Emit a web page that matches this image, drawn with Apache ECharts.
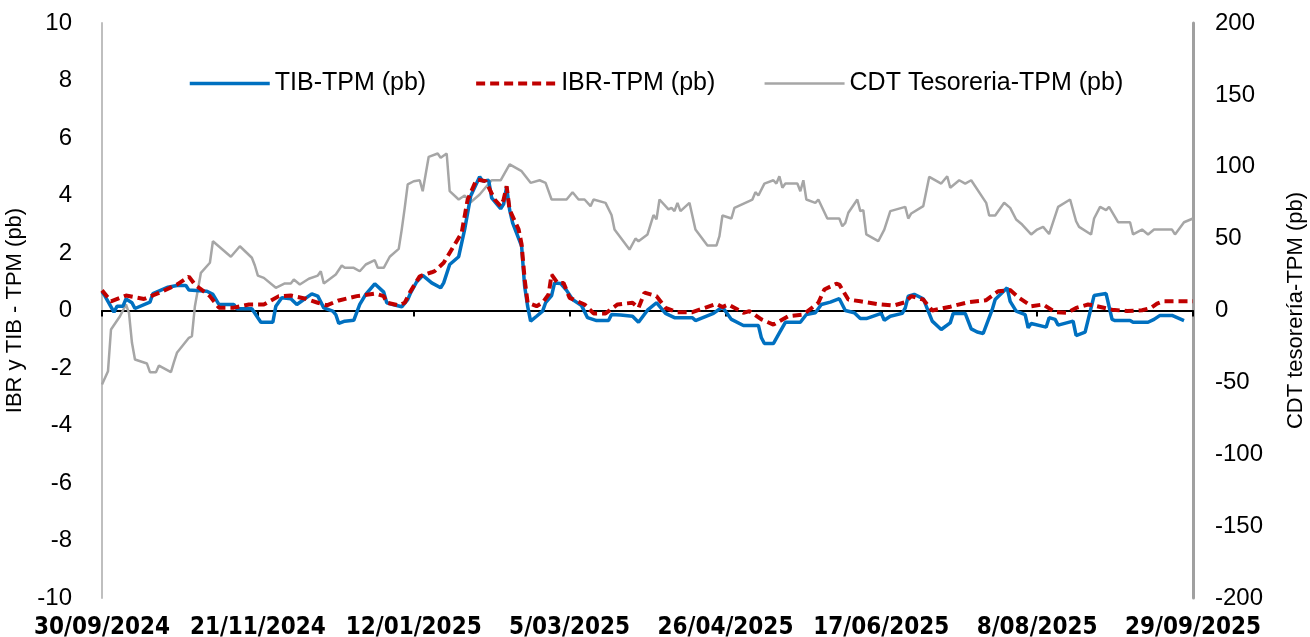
<!DOCTYPE html>
<html>
<head>
<meta charset="utf-8">
<script src="https://cdn.jsdelivr.net/npm/echarts@6/dist/echarts.min.js"></script>
<style>
  html, body { margin: 0; padding: 0; background: #fff; }
  #chart { width: 1310px; height: 637px; }
</style>
</head>
<body>
<div id="chart"></div>
<script>
// etiquetas del eje x (cada 52 días desde 30/09/2024)
const xTickLabels = ['30/09/2024', '21/11/2024', '12/01/2025', '5/03/2025',
  '26/04/2025', '17/06/2025', '8/08/2025', '29/09/2025'];
const tickStep = 52;

// TIB-TPM (pb), eje izquierdo: días desde 30/09/2024 y valor
const tibDays = [0, 1, 4, 5, 7, 8, 10, 11, 16, 17, 22, 25, 28, 29, 35, 37, 39, 44, 45, 50,
  53, 57, 58, 60, 63, 65, 70, 72, 74, 77, 78, 79, 81, 84, 86, 88, 91, 94, 95, 97,
  100, 102, 103, 105, 107, 110, 113, 114, 116, 119, 121, 123, 126, 127, 129, 130, 133, 134, 135, 136,
  137, 140, 141, 142, 143, 145, 147, 148, 150, 151, 153, 155, 157, 160, 162, 165, 169, 170, 173, 177,
  179, 182, 185, 188, 191, 197, 198, 204, 207, 210, 214, 219, 220, 221, 224, 226, 228, 233, 235, 238,
  240, 243, 246, 248, 251, 253, 255, 260, 261, 263, 267, 268, 269, 271, 274, 277, 280, 283, 284, 288,
  290, 292, 294, 297, 298, 302, 303, 305, 308, 309, 310, 315, 316, 318, 319, 324, 325, 328, 331, 335,
  337, 338, 343, 344, 349, 351, 353, 357, 361];
const tibValues = [0.65, 0.5, -0.06, 0.15, 0.15, 0.4, 0.27, 0.07, 0.29, 0.59, 0.81, 0.87, 0.87, 0.71, 0.67, 0.56, 0.21, 0.21, 0.06, 0.06,
  -0.41, -0.41, 0.15, 0.44, 0.41, 0.21, 0.58, 0.5, 0.09, -0.02, -0.14, -0.45, -0.37, -0.34, 0.21, 0.56, 0.93, 0.64, 0.27, 0.21,
  0.13, 0.38, 0.62, 1.0, 1.22, 0.96, 0.79, 0.96, 1.6, 1.87, 2.82, 3.98, 4.65, 4.5, 4.53, 3.92, 3.54, 3.7, 4.3, 3.5,
  3.05, 2.24, 0.85, 0.15, -0.37, -0.2, -0.02, 0.27, 0.52, 0.96, 0.94, 0.7, 0.38, 0.17, -0.25, -0.35, -0.35, -0.14, -0.16, -0.2,
  -0.41, 0.01, 0.27, -0.1, -0.25, -0.25, -0.35, -0.1, 0.12, -0.31, -0.52, -0.52, -0.95, -1.15, -1.15, -0.78, -0.41, -0.41, -0.14, -0.08,
  0.21, 0.29, 0.41, 0, -0.08, -0.28, -0.28, -0.1, -0.34, -0.2, -0.1, 0.09, 0.5, 0.56, 0.41, -0.37, -0.66, -0.43, -0.1, -0.1,
  -0.64, -0.75, -0.8, 0.03, 0.38, 0.79, 0.32, -0.02, -0.14, -0.6, -0.45, -0.58, -0.25, -0.31, -0.51, -0.37, -0.87, -0.75, 0.52, 0.59,
  -0.31, -0.35, -0.35, -0.41, -0.41, -0.31, -0.17, -0.17, -0.35];

// IBR-TPM (pb), eje izquierdo
const ibrDays = [0, 3, 8, 14, 19, 25, 29, 31, 36, 39, 44, 49, 54, 59, 63, 68, 72, 75, 79, 85,
  91, 94, 95, 99, 101, 103, 106, 110, 111, 114, 117, 120, 122, 125, 128, 131, 133, 134, 135, 136,
  139, 140, 141, 142, 145, 147, 149, 150, 152, 154, 156, 161, 164, 168, 172, 177, 179, 181, 185, 188,
  192, 197, 201, 205, 207, 209, 214, 216, 220, 224, 229, 234, 239, 241, 245, 246, 249, 253, 259, 264,
  268, 270, 274, 277, 283, 289, 295, 299, 303, 306, 309, 310, 314, 318, 322, 325, 329, 332, 337, 342,
  347, 350, 352, 354, 364];
const ibrValues = [0.7, 0.32, 0.52, 0.4, 0.61, 0.9, 1.18, 0.9, 0.5, 0.1, 0.1, 0.21, 0.21, 0.5, 0.52, 0.41, 0.27, 0.18, 0.35, 0.5,
  0.59, 0.5, 0.27, 0.18, 0.27, 0.68, 1.19, 1.33, 1.37, 1.66, 2.18, 2.7, 3.86, 4.56, 4.5, 3.86, 3.63, 3.86, 4.32, 3.5,
  2.82, 2.3, 1.1, 0.27, 0.15, 0.27, 0.56, 1.25, 0.96, 0.96, 0.44, 0.21, -0.1, -0.1, 0.21, 0.27, 0.09, 0.62, 0.5, 0.09,
  -0.06, -0.06, 0.09, 0.23, 0.12, 0.21, -0.08, -0.02, -0.31, -0.49, -0.2, -0.14, 0.27, 0.73, 0.93, 0.9, 0.38, 0.32, 0.22, 0.17,
  0.29, 0.5, 0.38, 0, 0.13, 0.29, 0.36, 0.67, 0.71, 0.44, 0.23, 0.15, 0.21, -0.06, -0.08, 0.09, 0.21, 0.15, 0.03, -0.02,
  0.01, 0.09, 0.24, 0.32, 0.32];

// CDT Tesoreria-TPM (pb), eje derecho
const cdtDays = [0, 2, 3, 6, 8, 9, 10, 11, 15, 16, 18, 19, 21, 23, 24, 25, 29, 30, 31, 33,
  36, 37, 43, 46, 50, 51, 52, 54, 58, 61, 63, 64, 66, 69, 72, 73, 74, 78, 80, 81,
  84, 86, 88, 91, 92, 94, 96, 99, 100, 101, 102, 104, 106, 107, 109, 112, 113, 115, 116, 119,
  121, 123, 126, 130, 133, 136, 140, 143, 146, 148, 150, 155, 157, 159, 161, 163, 164, 168, 170, 171,
  176, 178, 179, 182, 184, 185, 186, 189, 190, 191, 192, 193, 196, 198, 202, 205, 206, 207, 210, 211,
  217, 218, 219, 221, 224, 225, 226, 227, 228, 232, 233, 234, 235, 238, 239, 242, 246, 247, 248, 249,
  252, 253, 254, 255, 259, 261, 263, 268, 269, 270, 274, 276, 280, 282, 283, 286, 288, 290, 295, 296,
  298, 301, 303, 305, 307, 310, 312, 314, 316, 319, 323, 325, 326, 330, 331, 333, 335, 336, 339, 343,
  344, 347, 349, 351, 357, 358, 361, 364];
const cdtValues = [-51.5, -42.2, -13.2, -4, 4.2, -1.6, -22.5, -34.1, -36.9, -42.9, -42.9, -38.3, -40.6, -42.9, -35.9, -29.4, -19, -17.9, 3, 26.2,
  33.2, 48.2, 37.4, 44.7, 36.7, 31.3, 24.3, 22.7, 15.8, 18.8, 18.8, 21.6, 18.1, 22.1, 24.3, 27.3, 18.8, 25, 31.3, 29.7,
  29.7, 27.3, 32, 35, 29.7, 29.7, 37.4, 42.9, 56.3, 71.4, 87.7, 89.9, 90.6, 83, 106.9, 109.2, 106.2, 109.2, 83, 77.2,
  80, 75.3, 80.7, 90.6, 90.6, 101.6, 96.9, 88.8, 90.6, 88.8, 77.2, 77.2, 82.3, 77.2, 77.2, 72.6, 77.2, 74.9, 66.4, 56.3,
  42.4, 50.1, 48.2, 52.9, 66.4, 63.5, 77.2, 70.3, 71.4, 69.1, 74.9, 69.1, 74.9, 56.3, 45.2, 45.2, 51.7, 66.1, 64, 71.4,
  77.2, 82.3, 80, 88.3, 90.6, 88.3, 93.4, 85.4, 88.3, 88.3, 83, 90.6, 77.2, 74.9, 77.2, 64, 64, 58.6, 61, 68,
  77.2, 69.1, 69.8, 52.9, 48.2, 56.3, 69.1, 72.1, 64, 67.5, 72.6, 93, 88.3, 93.4, 85.4, 90.6, 88.3, 90.6, 74.9, 66.1,
  66.1, 74.9, 71.4, 63.3, 59.8, 52.9, 56.3, 58.2, 53.2, 72.1, 77.2, 62.1, 58.2, 52.9, 64, 72.1, 69.8, 72.1, 61.4, 61.4,
  52.9, 56.3, 52.9, 56.3, 56.3, 52.9, 61.4, 64];

const pairs = (days, vals) => days.map((d, i) => [d, vals[i]]);

const chart = echarts.init(document.getElementById('chart'), null, { renderer: 'canvas' });

const font = 'Liberation Sans, Arial, sans-serif';

chart.setOption({
  animation: false,
  backgroundColor: '#ffffff',
  textStyle: { fontFamily: font, color: '#000' },
  grid: { left: 102, right: 117, top: 23, bottom: 39, containLabel: false, outerBoundsMode: 'none' },
  legend: {
    left: 183,
    top: 66,
    itemWidth: 80,
    itemHeight: 4,
    itemGap: 48,
    itemStyle: { opacity: 0 },
    data: [
      { name: 'TIB-TPM (pb)', lineStyle: { width: 3.5 } },
      { name: 'IBR-TPM (pb)', lineStyle: { width: 4 } },
      { name: 'CDT Tesoreria-TPM (pb)', lineStyle: { width: 2.5 } }
    ],
    textStyle: { fontSize: 25, color: '#000', fontFamily: font }
  },
  xAxis: {
    type: 'value',
    min: 0,
    max: 364,
    interval: tickStep,
    splitLine: { show: false },
    axisLine: { onZero: true, lineStyle: { color: '#000', width: 2 } },
    axisTick: { show: true, length: 6, lineStyle: { color: '#000', width: 2 } },
    axisLabel: {
      margin: 18,
      fontSize: 24,
      fontWeight: 'bold',
      fontFamily: 'Liberation Sans Narrow, DejaVu Sans Condensed, sans-serif',
      color: '#000',
      formatter: v => xTickLabels[Math.round(v / tickStep)] || ''
    }
  },
  yAxis: [
    {
      type: 'value',
      min: -10,
      max: 10,
      interval: 2,
      name: 'IBR y TIB - TPM (pb)',
      nameLocation: 'middle',
      nameRotate: 90,
      nameGap: 66,
      nameTextStyle: { fontSize: 22, color: '#000', fontFamily: font },
      splitLine: { show: false },
      axisTick: { show: false },
      axisLine: { show: true, lineStyle: { color: '#bfbfbf', width: 2 } },
      axisLabel: { fontSize: 24, color: '#000', margin: 30 }
    },
    {
      type: 'value',
      position: 'right',
      min: -200,
      max: 200,
      interval: 50,
      name: 'CDT tesorería-TPM (pb)',
      nameLocation: 'middle',
      nameRotate: 90,
      nameGap: 92,
      nameTextStyle: { fontSize: 22, color: '#000', fontFamily: font },
      splitLine: { show: false },
      axisTick: { show: false },
      axisLine: { show: true, onZero: false, lineStyle: { color: '#a0a0a0', width: 3 } },
      axisLabel: { fontSize: 24, color: '#000', margin: 22 }
    }
  ],
  series: [
    {
      name: 'CDT Tesoreria-TPM (pb)',
      type: 'line',
      yAxisIndex: 1,
      symbol: 'none',
      lineStyle: { color: '#a6a6a6', width: 2.5 },
      itemStyle: { color: '#a6a6a6' },
      data: pairs(cdtDays, cdtValues)
    },
    {
      name: 'TIB-TPM (pb)',
      type: 'line',
      yAxisIndex: 0,
      symbol: 'none',
      lineStyle: { color: '#0070c0', width: 3.5 },
      itemStyle: { color: '#0070c0' },
      data: pairs(tibDays, tibValues)
    },
    {
      name: 'IBR-TPM (pb)',
      type: 'line',
      yAxisIndex: 0,
      symbol: 'none',
      lineStyle: { color: '#c00000', width: 4, type: [9, 5] },
      itemStyle: { color: '#c00000' },
      data: pairs(ibrDays, ibrValues)
    }
  ]
});
</script>
</body>
</html>
